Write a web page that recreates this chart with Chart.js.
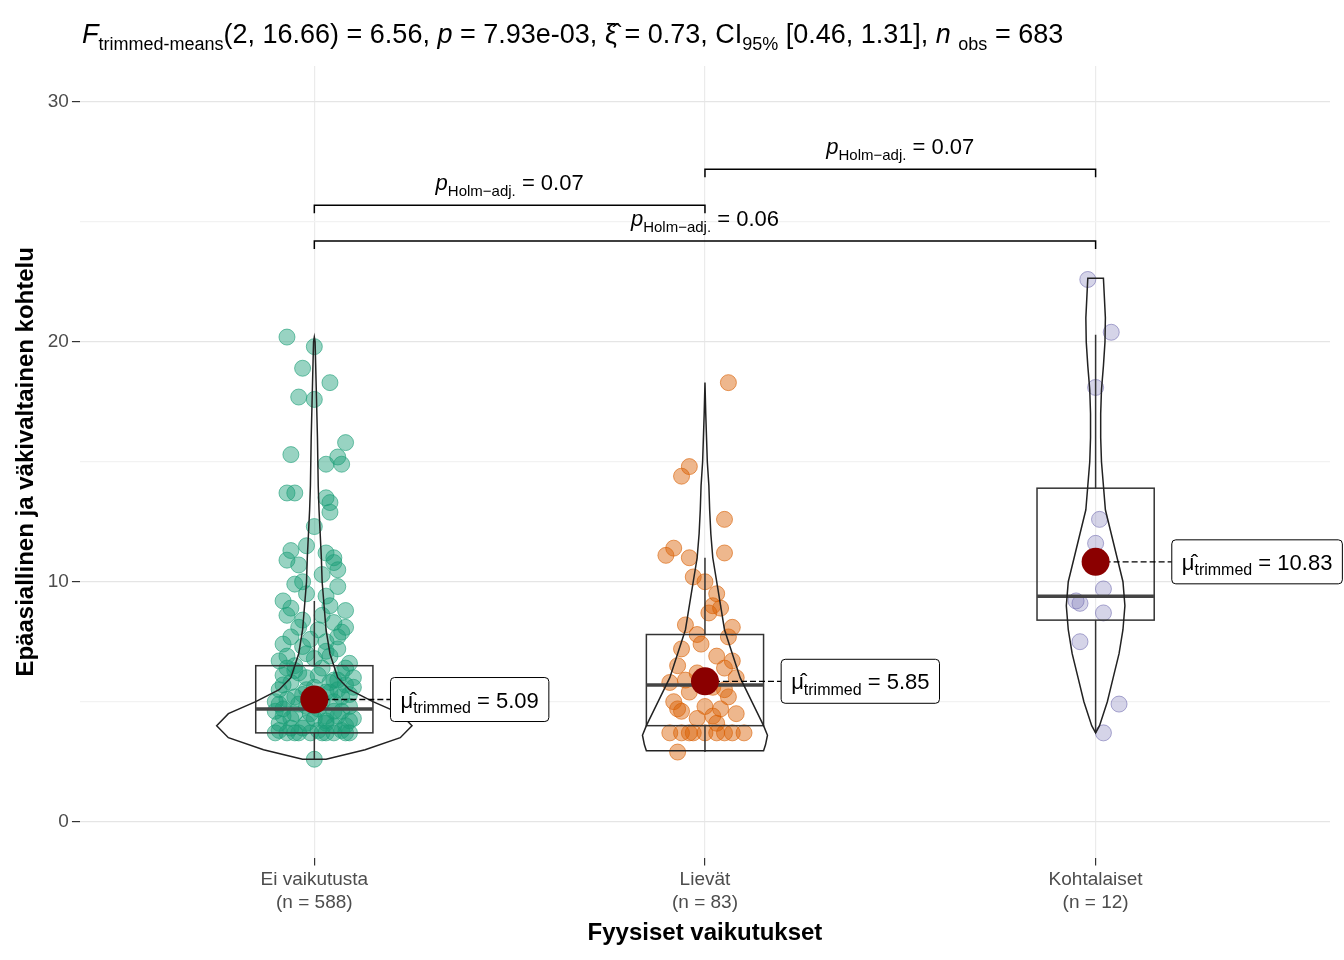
<!DOCTYPE html>
<html><head><meta charset="utf-8">
<script src="https://cdn.jsdelivr.net/npm/chart.js@4"></script>
<style>body{margin:0;background:#fff}#w{width:1344px;height:960px}</style>
</head><body><div id="w"><canvas id="c"></canvas></div>
<script>
const categories=["Ei vaikutusta","Lievät","Kohtalaiset"];
const counts=[588,83,12];
const colors=["rgba(27,158,119,0.45)","rgba(217,95,2,0.45)","rgba(117,112,179,0.3)"];
// jittered points [offset, value]
const g1=[[-0.07,20.2],[0,19.8],[-0.03,18.9],[0.04,18.3],[-0.04,17.7],[0,17.6],[0.08,15.8],[-0.06,15.3],[0.06,15.2],[0.03,14.9],[0.07,14.9],[-0.07,13.7],[-0.05,13.7],[0.03,13.5],[0.04,13.3],[0.04,12.9],[0,12.3],[-0.02,11.5],[0.03,11.2],[-0.07,10.9],[0.05,10.8],[-0.04,10.7],[0.06,10.5],[0.02,10.3],[-0.05,9.9],[0.06,9.8],[-0.02,9.5],[-0.08,9.2],[0.04,9.0],[0.08,8.8],[-0.07,8.6],[-0.03,8.4],[0.05,8.3],[0.01,8.0],[0.07,7.9],[-0.06,7.7],[0.03,7.5],[-0.08,7.4],[0.06,7.2],[-0.02,7.0],[0.04,6.9],[-0.09,6.7],[0.09,6.6],[-0.05,6.5],[0.02,6.4],[0.07,6.2],[-0.08,6.1],[-0.02,6.0],[0.05,5.9],[-0.06,5.8],[0.08,5.7],[0,5.6],[-0.09,5.5],[0.04,5.4],[-0.03,5.3],[0.07,5.2],[-0.07,5.1],[0.02,5.0],[-0.04,4.9],[0.09,4.8],[-0.08,4.7],[0.05,4.6],[-0.01,4.5],[0.06,4.4],[-0.06,4.3],[0.03,4.2],[-0.09,4.1],[0.08,4.0],[-0.03,3.9],[0.01,3.8],[-0.07,3.7],[-0.04,3.7],[-0.01,3.7],[0.02,3.7],[0.05,3.7],[0.08,3.7],[-0.1,3.7],[0.1,4.3],[-0.1,5.0],[0.1,5.6],[-0.05,6.3],[0.04,5.8],[-0.02,4.8],[0.03,4.1],[0,2.6],
[-0.06,11.3],[0.05,11.0],[-0.03,10.0],[0.03,9.4],[-0.06,8.9],[0.02,8.6],[-0.04,8.1],[0.06,7.7],[-0.01,7.6],[0.03,7.1],[-0.07,6.9],[0.08,6.4],[-0.04,6.2],[0.01,6.1],[0.06,5.9],[-0.08,5.7],[-0.02,5.5],[0.03,5.4],[0.09,5.3],[-0.05,5.2],[0.05,5.0],[-0.09,4.9],[0.01,4.7],[0.07,4.6],[-0.05,4.5],[0.03,4.4],[-0.08,4.4],[0.09,4.2],[-0.02,4.1],[0.05,4.0],[-0.06,3.9],[0.07,3.8],[-0.09,3.8],[0.03,3.7],[-0.05,3.7],[0.09,3.7],[0.06,5.5],[-0.07,6.4],[0.1,6.0],[-0.1,4.6],[0,4.3],[0,6.8],[-0.03,7.3],[0.08,8.1]];
const g2=[[0.06,18.3],[-0.04,14.8],[-0.06,14.4],[0.05,12.6],[-0.08,11.4],[-0.1,11.1],[-0.04,11.0],[0.05,11.2],[-0.03,10.2],[0,10.0],[0.03,9.5],[0.02,9.0],[0.01,8.7],[-0.05,8.2],[0.07,8.1],[0.06,7.7],[-0.01,7.4],[-0.06,7.2],[0.03,6.9],[-0.07,6.5],[0.05,6.4],[-0.02,6.2],[0.08,6.0],[-0.09,5.8],[0.02,5.6],[-0.04,5.4],[0.06,5.2],[-0.08,5.0],[0,4.8],[0.04,4.7],[-0.06,4.6],[0.08,4.5],[-0.02,4.3],[0.03,4.1],[-0.09,3.7],[-0.06,3.7],[-0.03,3.7],[0,3.7],[0.03,3.7],[0.07,3.7],[0.1,3.7],[-0.07,2.9],
[0.04,8.9],[-0.02,7.8],[0.07,6.7],[-0.05,5.9],[0.05,5.5],[-0.07,4.7],[0.02,4.4],[-0.04,3.7],[0.05,3.7]];
const g3=[[-0.02,22.6],[0.04,20.4],[0,18.1],[0.01,12.6],[0,11.6],[0.02,9.7],[-0.05,9.2],[-0.04,9.1],[0.02,8.7],[-0.04,7.5],[0.06,4.9],[0.02,3.7]];
const groups=[g1,g2,g3];
const means=[5.09,5.85,10.83];
const boxQ1=[3.7,4.0,8.4],boxMed=[4.7,5.7,9.4],boxQ3=[6.5,7.8,13.9],whLo=[2.6,2.9,3.7],whHi=[9.2,11.0,20.3];
const violinY=[[2.6,3,3.5,4,4.5,5,5.5,6,7,8,9,10,11,12,13,14,16,18,20,20.2],[2.95,3.2,3.6,4,5,6,7,8,9,10,11,12,13,14,15,16,17,18.3],[3.7,4,5,6,7,8,9,10,11,12,13,14,15,16,17,18,19,20,21,22,22.65]];
const violinW=[[0.03,0.13,0.22,0.25,0.22,0.15,0.09,0.06,0.04,0.03,0.025,0.02,0.018,0.015,0.012,0.01,0.008,0.005,0.002,0],[0.15,0.155,0.16,0.15,0.12,0.09,0.07,0.05,0.04,0.03,0.02,0.015,0.012,0.01,0.006,0.004,0.002,0],[0,0.01,0.03,0.045,0.06,0.07,0.075,0.07,0.055,0.04,0.025,0.02,0.015,0.013,0.013,0.015,0.02,0.024,0.025,0.022,0.02]];
const pairs=[[1,2,25.7,"0.07"],[2,3,27.2,"0.07"],[1,3,24.2,"0.06"]];
const yTicks=[0,10,20,30];
const FF="'Liberation Sans', Arial";

function drawRich(ctx,parts,x,y,big,small,draw){
  for(const p of parts){
    const sz=p.sub?small:big;
    ctx.font=(p.it?"italic ":"")+sz+"px "+FF;
    if(draw)ctx.fillText(p.t,x,y+(p.sub?big*0.25:0));
    x+=ctx.measureText(p.t).width;
  }
  return x;
}

const deco={id:"deco",
afterDatasetsDraw(ch){
  const ctx=ch.ctx,xs=ch.scales.x,ys=ch.scales.y;
  ctx.save();
  for(let g=0;g<3;g++){
    const cx=g+1;
    ctx.strokeStyle="#333";ctx.lineWidth=1.5;
    ctx.beginPath();ctx.moveTo(xs.getPixelForValue(cx),ys.getPixelForValue(whLo[g]));ctx.lineTo(xs.getPixelForValue(cx),ys.getPixelForValue(boxQ1[g]));
    ctx.moveTo(xs.getPixelForValue(cx),ys.getPixelForValue(boxQ3[g]));ctx.lineTo(xs.getPixelForValue(cx),ys.getPixelForValue(whHi[g]));ctx.stroke();
    const l=xs.getPixelForValue(cx-0.15),r=xs.getPixelForValue(cx+0.15);
    ctx.strokeRect(l,ys.getPixelForValue(boxQ3[g]),r-l,ys.getPixelForValue(boxQ1[g])-ys.getPixelForValue(boxQ3[g]));
    ctx.lineWidth=3.5;ctx.strokeStyle="#444";
    ctx.beginPath();ctx.moveTo(l,ys.getPixelForValue(boxMed[g]));ctx.lineTo(r,ys.getPixelForValue(boxMed[g]));ctx.stroke();
    ctx.lineWidth=1.5;ctx.strokeStyle="#222";ctx.beginPath();
    const vy=violinY[g],vw=violinW[g];
    vy.forEach((v,i)=>{const px=xs.getPixelForValue(cx-vw[i]),py=ys.getPixelForValue(v);i?ctx.lineTo(px,py):ctx.moveTo(px,py);});
    for(let i=vy.length-1;i>=0;i--)ctx.lineTo(xs.getPixelForValue(cx+vw[i]),ys.getPixelForValue(vy[i]));
    ctx.closePath();ctx.stroke();
    const mx=xs.getPixelForValue(cx),my=ys.getPixelForValue(means[g]);
    const lx=xs.getPixelForValue(cx+0.195);
    ctx.setLineDash([6,3]);ctx.lineWidth=1.3;ctx.strokeStyle="#000";
    ctx.beginPath();ctx.moveTo(mx,my);ctx.lineTo(lx,my);ctx.stroke();ctx.setLineDash([]);
    ctx.fillStyle="#8b0000";ctx.beginPath();ctx.arc(mx,my,14,0,Math.PI*2);ctx.fill();
    const parts=[{t:"μ̂"},{t:"trimmed",sub:1},{t:" = "+means[g].toFixed(2)}];
    const w=drawRich(ctx,parts,0,0,22,16,false)+20;
    ctx.fillStyle="#fff";ctx.strokeStyle="#000";ctx.lineWidth=1;
    ctx.beginPath();ctx.roundRect(lx,my-22,w,44,4);ctx.fill();ctx.stroke();
    ctx.fillStyle="#000";
    drawRich(ctx,parts,lx+10,my+8,22,16,true);
  }
  ctx.strokeStyle="#000";ctx.lineWidth=1.5;ctx.fillStyle="#000";
  for(const [a,b,y,lab] of pairs){
    const xa=xs.getPixelForValue(a),xb=xs.getPixelForValue(b),py=ys.getPixelForValue(y);
    ctx.beginPath();ctx.moveTo(xa,py+8);ctx.lineTo(xa,py);ctx.lineTo(xb,py);ctx.lineTo(xb,py+8);ctx.stroke();
    const parts=[{t:"p",it:1},{t:"Holm−adj.",sub:1},{t:" = "+lab}];
    const w=drawRich(ctx,parts,0,0,22,15,false);
    drawRich(ctx,parts,(xa+xb)/2-w/2,py-15,22,15,true);
  }
  ctx.fillStyle="#000";
  drawRich(ctx,[{t:"F",it:1},{t:"trimmed-means",sub:1},{t:"(2, 16.66) = 6.56, "},{t:"p",it:1},{t:" = 7.93e-03, "},{t:"ξ̂"},{t:" = 0.73, CI"},{t:"95%",sub:1},{t:" [0.46, 1.31], "},{t:"n",it:1},{t:" "},{t:"obs",sub:1},{t:" = 683"}],82,43,27,18,true);
  ctx.restore();
}};

const datasets=groups.map((g,i)=>({type:"scatter",data:g.map(p=>({x:i+1+p[0],y:p[1]})),backgroundColor:colors[i],borderColor:colors[i].replace(/[\d.]+\)$/,"0.6)"),borderWidth:1,pointRadius:8}));

new Chart(document.getElementById("c"),{type:"scatter",data:{datasets},
options:{responsive:true,maintainAspectRatio:false,animation:false,
layout:{padding:{top:66,right:14,left:8,bottom:8}},
plugins:{legend:{display:false},tooltip:{enabled:false}},
scales:{
x:{type:"linear",min:0.4,max:3.6,
 afterBuildTicks:s=>{s.ticks=[1,2,3].map(v=>({value:v}));},
 ticks:{color:"#4d4d4d",font:{size:19,family:FF},callback:v=>[categories[v-1],"(n = "+counts[v-1]+")"]},
 grid:{color:"#ebebeb",lineWidth:1.2,tickColor:"#333",tickLength:8},border:{display:false},
 title:{display:true,text:"Fyysiset vaikutukset",font:{size:24,weight:"bold",family:FF},color:"#000",padding:{top:2}}},
y:{min:-1.5,max:31.5,
 afterBuildTicks:s=>{s.ticks=[0,5,10,15,20,25,30].map(v=>({value:v}));},
 ticks:{color:"#4d4d4d",font:{size:19,family:FF},callback:v=>yTicks.includes(v)?v:""},
 grid:{color:c=>c.tick&&yTicks.includes(c.tick.value)?"#e5e5e5":"#f2f2f2",lineWidth:1.2,tickColor:c=>c.tick&&yTicks.includes(c.tick.value)?"#333":"rgba(0,0,0,0)",tickLength:8},border:{display:false},
 title:{display:true,text:"Epäasiallinen ja väkivaltainen kohtelu",font:{size:24,weight:"bold",family:FF},color:"#000"}}
}},plugins:[deco]});
</script></body></html>
